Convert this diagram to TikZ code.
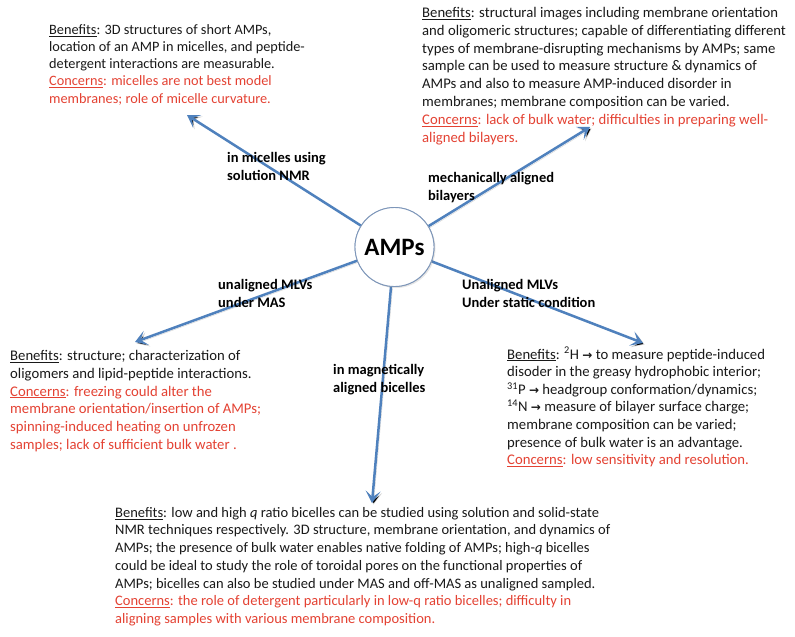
\documentclass[tikz,border=0pt]{standalone}
\usepackage{fontspec}
\setmainfont{Carlito}
\newfontfamily\dejavu{DejaVu Sans}
\usetikzlibrary{arrows.meta,shadows}
\definecolor{arrowblue}{RGB}{79,129,189}
\definecolor{concernred}{RGB}{228,66,51}
\definecolor{circleedge}{RGB}{125,150,185}
\newcommand{\ben}{\underline{Benefits}}
\newcommand{\con}{\underline{Concerns}}
\newcommand{\rarr}{{\dejavu\bfseries\fontsize{12}{12}\selectfont →}}
\begin{document}
\begin{tikzpicture}[x=1pt,y=-1pt,
  txtblock/.style={anchor=north west,align=left,inner sep=0pt,font=\fontsize{14.7}{17.8}\selectfont,text=black!90},
  lbl/.style={anchor=north west,align=left,inner sep=0pt,font=\bfseries\fontsize{14.5}{17.5}\selectfont},
  conn/.style={draw=arrowblue,line width=2.5pt,-{Stealth[length=12pt,width=15pt,inset=6pt]},
    preaction={draw=black,draw opacity=0.18,transform canvas={shift={(1.5pt,-1.5pt)}}}},
  hub/.style={circle,draw=circleedge,line width=0.9pt,fill=white,minimum size=79pt,inner sep=0pt,font=\bfseries\fontsize{25}{25}\selectfont}]
\useasboundingbox (0,0) rectangle (795,637);
\fill[white] (0,0) rectangle (795,637);

% hub
\node[hub] (c) at (394.5,247) {AMPs};

% arrow tips
\coordinate (tl) at (187,115);
\coordinate (tr) at (590,127);
\coordinate (bl) at (135,342);
\coordinate (br) at (643,343);
\coordinate (bt) at (372,503);

\draw[conn] (c) -- (tl);
\draw[conn] (c) -- (tr);
\draw[conn] (c) -- (bl);
\draw[conn] (c) -- (br);
\draw[conn] (c) -- (bt);
\node[hub,drop shadow={opacity=0.2,shadow xshift=1.5pt,shadow yshift=-1.5pt}] (c2) at (394.5,247) {AMPs};

% labels
\node[lbl] (l1) at (227,152.5) {in micelles using\\solution NMR};
\node[lbl] (l2) at (428,172.5) {mechanically aligned\\bilayers};
\node[lbl] (l3) at (218,279.5) {unaligned MLVs\\under MAS};
\node[lbl] (l4) at (462,279.5) {Unaligned MLVs\\Under static condition};
\node[lbl] (l5) at (333,364.5) {in magnetically\\aligned bicelles};

% text blocks
\node[txtblock,font=\fontsize{14.3}{17.1}\selectfont] (t1) at (49,24.5) {\ben: 3D structures of short  AMPs,\\
location of an AMP in micelles, and peptide-\\
detergent interactions are measurable.\\
\textcolor{concernred}{\con: micelles are not best model}\\
\textcolor{concernred}{membranes; role of micelle curvature.}};

\node[txtblock] (t2) at (422,7) {\ben: structural images including membrane orientation\\
and oligomeric structures; capable of differentiating different\\
types of membrane-disrupting mechanisms by  AMPs; same\\
sample can be used to measure structure \& dynamics of\\
AMPs and also to measure AMP-induced disorder in\\
membranes;  membrane composition can be varied.\\
\textcolor{concernred}{\con: lack of bulk water;  difficulties in preparing well-}\\
\textcolor{concernred}{aligned bilayers.}};

\node[txtblock] (t3) at (10,350) {\ben: structure; characterization of\\
oligomers  and lipid-peptide interactions.\\
\textcolor{concernred}{\con: freezing could alter the}\\
\textcolor{concernred}{membrane orientation/insertion of  AMPs;}\\
\textcolor{concernred}{spinning-induced heating  on unfrozen}\\
\textcolor{concernred}{samples; lack of sufficient bulk water .}};

\node[txtblock,font=\fontsize{14.7}{17.6}\selectfont] (t4) at (507,347) {\ben: \textsuperscript{2}H \rarr\ to measure peptide-induced\\
disoder in the greasy hydrophobic interior;\\
\textsuperscript{31}P \rarr\ headgroup  conformation/dynamics;\\
\textsuperscript{14}N \rarr\ measure of bilayer surface charge;\\
membrane composition can be varied;\\
presence of bulk water is an advantage.\\
\textcolor{concernred}{\con: low sensitivity and resolution.}};

\node[txtblock,font=\fontsize{14.5}{17.7}\selectfont] (t5) at (115,507) {\ben: low and high \textit{q} ratio bicelles can be studied using solution and solid-state\\
NMR techniques respectively. 3D structure, membrane orientation, and dynamics of\\
AMPs; the presence of bulk water enables native folding of  AMPs; high-\textit{q} bicelles\\
could be ideal to study the role of  toroidal pores on the functional properties of\\
AMPs; bicelles can also be studied under MAS  and off-MAS as unaligned sampled.\\
\textcolor{concernred}{\con: the role of detergent particularly in  low-q ratio bicelles; difficulty in}\\
\textcolor{concernred}{aligning samples with various membrane composition.}};
\end{tikzpicture}
\end{document}
